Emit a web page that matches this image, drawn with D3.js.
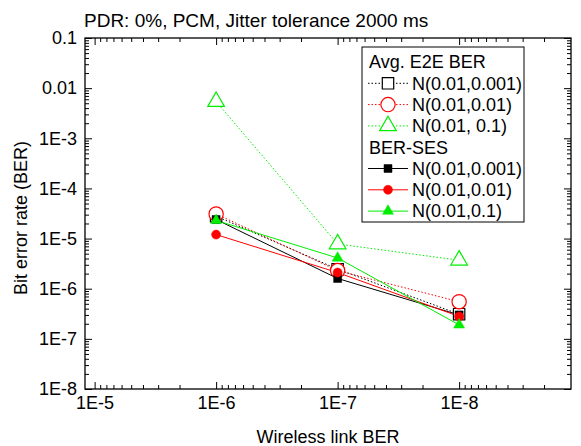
<!DOCTYPE html>
<meta charset="utf-8">
<head>
    <style>
        body { margin: 0; background: #fff; }
        svg { display: block; font-family: 'Liberation Sans', Arial, sans-serif; }
        .tick text { font-size: 18px; fill: #000; }
        .domain { display: none; }
    </style>
</head>
<body>
    <svg width="581" height="446"></svg>

    <script src="https://d3js.org/d3.v7.min.js"></script>
    <script type="text/javascript">

        // wireless link BER (x) and measured BER per series
        var linkBer = [1e-6, 1e-7, 1e-8];

        var e2e_001 = [2.8e-5, 2.45e-6, 3.1e-7];
        var e2e_01  = [3.1e-5, 2.3e-6, 5.5e-7];
        var e2e_1   = [5.4e-3, 7.8e-6, 3.7e-6];

        var ses_001 = [2.4e-5, 1.6e-6, 3.0e-7];
        var ses_01  = [1.2e-5, 2.1e-6, 2.8e-7];
        var ses_1   = [2.3e-5, 4.1e-6, 1.9e-7];

        var xTicks = [1e-5, 1e-6, 1e-7, 1e-8];
        var xTickLabels = ["1E-5", "1E-6", "1E-7", "1E-8"];
        var yTicks = [1e-8, 1e-7, 1e-6, 1e-5, 1e-4, 1e-3, 1e-2, 1e-1];
        var yTickLabels = ["1E-8", "1E-7", "1E-6", "1E-5", "1E-4", "1E-3", "0.01", "0.1"];

        var svg = d3.select("svg");

        // plot frame (note: "top" is a reserved window global, so prefix these)
        var pLeft = 85, pRight = 571, pTop = 38, pBottom = 389;

        var x = d3.scaleLog().domain([1.2e-5, 1.2e-9]).range([pLeft, pRight]);
        var y = d3.scaleLog().domain([1e-8, 0.1]).range([pBottom, pTop]);

        // minor ticks
        var xMinor = [];
        [1e-9, 1e-8, 1e-7, 1e-6, 1e-5].forEach(function (d) {
            for (var k = 2; k <= 9; k++) {
                var v = d * k;
                if (v <= 1.2e-5 && v >= 1.2e-9) xMinor.push(v);
            }
        });
        var yMinor = [];
        [1e-8, 1e-7, 1e-6, 1e-5, 1e-4, 1e-3, 1e-2].forEach(function (d) {
            for (var k = 2; k <= 9; k++) yMinor.push(d * k);
        });

        function fmtX(d) { return xTickLabels[xTicks.indexOf(d)]; }
        function fmtY(d) { return yTickLabels[yTicks.indexOf(d)]; }

        var axes = svg.append("g").attr("class", "axes");

        // bottom
        axes.append("g").attr("transform", "translate(0," + pBottom + ")")
            .call(d3.axisBottom(x).tickValues(xTicks).tickFormat(fmtX).tickSize(-7).tickSizeOuter(0).tickPadding(7));
        axes.append("g").attr("transform", "translate(0," + pBottom + ")")
            .call(d3.axisBottom(x).tickValues(xMinor).tickFormat("").tickSize(-4).tickSizeOuter(0));
        // top
        axes.append("g").attr("transform", "translate(0," + pTop + ")")
            .call(d3.axisTop(x).tickValues(xTicks).tickFormat("").tickSize(-7).tickSizeOuter(0));
        axes.append("g").attr("transform", "translate(0," + pTop + ")")
            .call(d3.axisTop(x).tickValues(xMinor).tickFormat("").tickSize(-4).tickSizeOuter(0));
        // left
        axes.append("g").attr("transform", "translate(" + pLeft + ",0)")
            .call(d3.axisLeft(y).tickValues(yTicks).tickFormat(fmtY).tickSize(-7).tickSizeOuter(0).tickPadding(8));
        axes.append("g").attr("transform", "translate(" + pLeft + ",0)")
            .call(d3.axisLeft(y).tickValues(yMinor).tickFormat("").tickSize(-4).tickSizeOuter(0));
        // right
        axes.append("g").attr("transform", "translate(" + pRight + ",0)")
            .call(d3.axisRight(y).tickValues(yTicks).tickFormat("").tickSize(-7).tickSizeOuter(0));
        axes.append("g").attr("transform", "translate(" + pRight + ",0)")
            .call(d3.axisRight(y).tickValues(yMinor).tickFormat("").tickSize(-4).tickSizeOuter(0));

        axes.selectAll(".tick line").attr("stroke", "#000").attr("stroke-width", 1);

        svg.append("rect")
            .attr("x", pLeft).attr("y", pTop)
            .attr("width", pRight - pLeft).attr("height", pBottom - pTop)
            .attr("fill", "none").attr("stroke", "#000").attr("stroke-width", 1.3);

        // series definitions
        var series = [
            { name: "N(0.01,0.001)", vals: e2e_001, color: "#000", dash: "1.5,2", shape: "square", open: true },
            { name: "N(0.01,0.01)",  vals: e2e_01,  color: "#ff0000", dash: "1.5,2", shape: "circle", open: true },
            { name: "N(0.01, 0.1)",  vals: e2e_1,   color: "#00ee00", dash: "1.5,2", shape: "triangle", open: true },
            { name: "N(0.01,0.001)", vals: ses_001, color: "#000", dash: null, shape: "square", open: false },
            { name: "N(0.01,0.01)",  vals: ses_01,  color: "#ff0000", dash: null, shape: "circle", open: false },
            { name: "N(0.01,0.1)",   vals: ses_1,   color: "#00ee00", dash: null, shape: "triangle", open: false }
        ];

        function symbolFor(s) {
            var type = s.shape === "square" ? d3.symbolSquare : s.shape === "circle" ? d3.symbolCircle : d3.symbolTriangle;
            var size;
            if (s.open) size = s.shape === "square" ? 130 : s.shape === "circle" ? 160 : 120;
            else size = s.shape === "square" ? 64 : s.shape === "circle" ? 64 : 52;
            return d3.symbol().type(type).size(size)();
        }

        var line = d3.line()
            .x(function (d) { return x(d[0]); })
            .y(function (d) { return y(d[1]); });

        var plot = svg.append("g");

        series.forEach(function (s) {
            var pts = linkBer.map(function (v, i) { return [v, s.vals[i]]; });
            plot.append("path")
                .datum(pts)
                .attr("d", line)
                .attr("fill", "none")
                .attr("stroke", s.color)
                .attr("stroke-width", 1)
                .attr("stroke-dasharray", s.dash);
        });

        series.forEach(function (s) {
            var pts = linkBer.map(function (v, i) { return [v, s.vals[i]]; });
            plot.selectAll(null)
                .data(pts)
                .enter().append("path")
                .attr("transform", function (d) { return "translate(" + x(d[0]) + "," + y(d[1]) + ")"; })
                .attr("d", symbolFor(s))
                .attr("fill", s.open ? "#fff" : s.color)
                .attr("stroke", s.color)
                .attr("stroke-width", s.open ? 1.2 : 0.5);
        });

        // legend
        var lg = svg.append("g");
        lg.append("rect")
            .attr("x", 362).attr("y", 47).attr("width", 162).attr("height", 175)
            .attr("fill", "#fff").attr("stroke", "#000").attr("stroke-width", 1);

        var rowH = 21.3, row0 = 62;
        var headers = [{ text: "Avg. E2E BER", row: 0 }, { text: "BER-SES", row: 4 }];
        headers.forEach(function (h) {
            lg.append("text")
                .attr("x", 369).attr("y", row0 + h.row * rowH)
                .attr("dy", "0.35em")
                .style("font-size", "18px")
                .text(h.text);
        });

        series.forEach(function (s, i) {
            var row = i < 3 ? i + 1 : i + 2;
            var cy = row0 + row * rowH;
            lg.append("line")
                .attr("x1", 368).attr("x2", 408).attr("y1", cy).attr("y2", cy)
                .attr("stroke", s.color).attr("stroke-width", 1)
                .attr("stroke-dasharray", s.dash);
            lg.append("path")
                .attr("transform", "translate(388," + cy + ")")
                .attr("d", symbolFor(s))
                .attr("fill", s.open ? "#fff" : s.color)
                .attr("stroke", s.color)
                .attr("stroke-width", s.open ? 1.2 : 0.5);
            lg.append("text")
                .attr("x", 412).attr("y", cy)
                .attr("dy", "0.35em")
                .style("font-size", "18px")
                .text(s.name);
        });

        // titles
        svg.append("text")
            .attr("x", 84).attr("y", 27)
            .style("font-size", "19px")
            .text("PDR: 0%, PCM, Jitter tolerance 2000 ms");

        svg.append("text")
            .attr("x", (pLeft + pRight) / 2).attr("y", 443)
            .attr("text-anchor", "middle")
            .style("font-size", "18px")
            .text("Wireless link BER");

        svg.append("text")
            .attr("transform", "translate(27,218) rotate(-90)")
            .attr("text-anchor", "middle")
            .style("font-size", "18px")
            .text("Bit error rate (BER)");

    </script>
</body>
